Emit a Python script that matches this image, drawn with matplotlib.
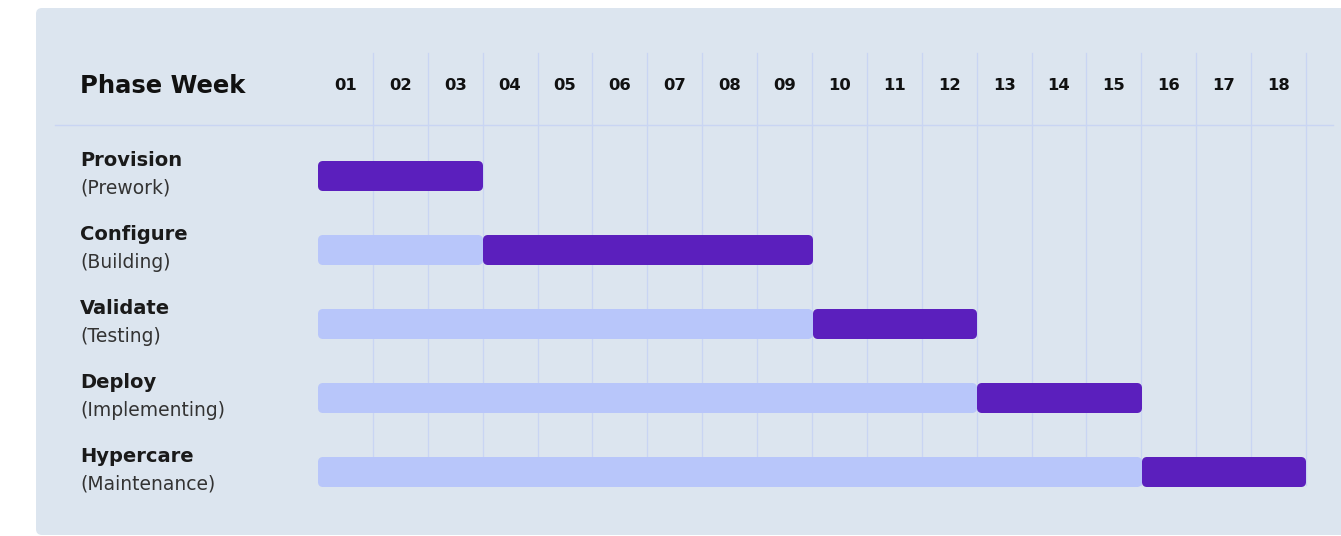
import matplotlib
matplotlib.use("Agg")
import matplotlib.pyplot as plt
from matplotlib.patches import FancyBboxPatch

# ---- data ----
phases = ["Provision", "Configure", "Validate", "Deploy", "Hypercare"]
subtitles = ["(Prework)", "(Building)", "(Testing)", "(Implementing)", "(Maintenance)"]
start_week = [1, 4, 10, 13, 16]
end_week = [3, 9, 12, 15, 18]
weeks = ["01", "02", "03", "04", "05", "06", "07", "08", "09", "10",
         "11", "12", "13", "14", "15", "16", "17", "18"]
header = "Phase Week"

# ---- style ----
DARK = "#5b1fbd"
LIGHT = "#b8c6fa"
PANEL = "#dce5ef"
GRID = "#c9d5f3"
FONT = "DejaVu Sans"

W, H = 1341, 536
fig = plt.figure(figsize=(W / 100, H / 100), dpi=100)
fig.patch.set_facecolor("white")

# pixel geometry of the week grid
x0_px, x18_px = 318, 1306
pxw = (x18_px - x0_px) / 18.0
row0_px, pitch = 175, 74.0

ax = fig.add_axes([0, 0, 1, 1])
ax.set_xlim(-x0_px / pxw, (W - x0_px) / pxw)
ax.set_ylim((H - row0_px) / pitch, -row0_px / pitch)
ax.axis("off")

def xd(px):
    return (px - x0_px) / pxw

def yd(py):
    return (py - row0_px) / pitch

# panel
panel = FancyBboxPatch((36, H - 535), W - 36 + 20, 535 - 8,
                       boxstyle="round,pad=0,rounding_size=6",
                       transform=None, facecolor=PANEL, edgecolor="none", zorder=-5)
fig.patches.append(panel)

# grid lines
for k in range(1, len(weeks) + 1):
    ax.plot([k, k], [yd(53), yd(485)], color=GRID, lw=0.9, zorder=1)
ax.plot([xd(55), xd(1333)], [yd(125), yd(125)], color=GRID, lw=1.0, zorder=1)

# header
ax.text(xd(80), yd(86), header, fontsize=17.5, fontweight="bold", family=FONT,
        color="#111111", va="center", ha="left")
for i, w in enumerate(weeks):
    ax.text(i + 0.5, yd(85), w, fontsize=11.8, fontweight="bold", family=FONT,
            color="#111111", va="center", ha="center")

# bars (rounded via thick round-joined edges)
r_px = 4.5
lw_pt = 2 * r_px * 0.72
pad_x = r_px / pxw
pad_y = r_px / pitch
bar_h = 30 / pitch - 2 * pad_y
rows = list(range(len(phases)))
for i in rows:
    s, e = start_week[i] - 1, end_week[i]
    if s > 0:
        ax.barh(i, s - 2 * pad_x, left=pad_x, height=bar_h, color=LIGHT,
                edgecolor=LIGHT, linewidth=lw_pt, joinstyle="round", zorder=2)
    ax.barh(i, e - s - 2 * pad_x, left=s + pad_x, height=bar_h, color=DARK,
            edgecolor=DARK, linewidth=lw_pt, joinstyle="round", zorder=3)
    ax.text(xd(80), i - 15 / pitch, phases[i], fontsize=14, fontweight="bold",
            family=FONT, color="#1a1a1a", va="center", ha="left")
    ax.text(xd(80), i + 13 / pitch, subtitles[i], fontsize=13.5, family=FONT,
            color="#333333", va="center", ha="left")

fig.savefig("out.png", dpi=100, facecolor="white")
